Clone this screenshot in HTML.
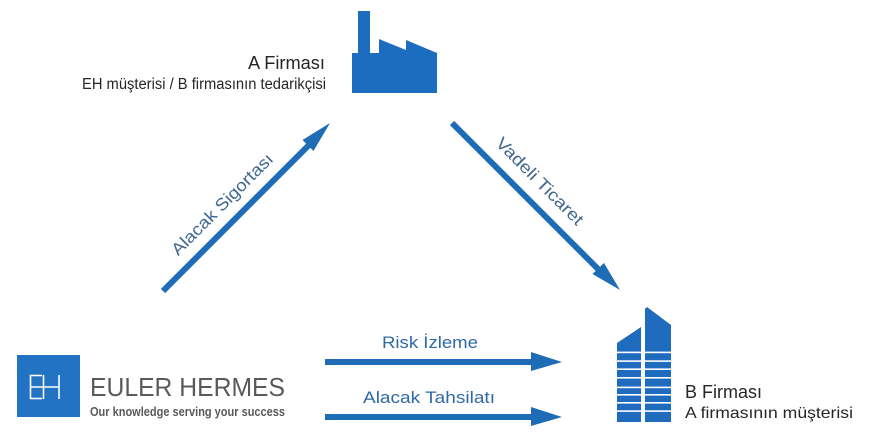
<!DOCTYPE html>
<html>
<head>
<meta charset="utf-8">
<style>
  html, body { margin:0; padding:0; background:#ffffff; }
  body { width:869px; height:444px; overflow:hidden; }
  svg { display:block; }
  text { font-family: "Liberation Sans", "DejaVu Sans", sans-serif; }
</style>
</head>
<body>
<svg width="869" height="444" viewBox="0 0 869 444" xmlns="http://www.w3.org/2000/svg">
  <rect width="869" height="444" fill="#ffffff"/>

  <!-- Factory (A Firmasi) -->
  <polygon fill="#1c6cc0" points="352,93 352,53 358,53 358,11 370,11 370,53 379,53 379,39 406,50 406,40 437,53 437,93"/>

  <text x="325" y="69" font-size="18.5" fill="#262626" text-anchor="end" textLength="77" lengthAdjust="spacingAndGlyphs">A Firması</text>
  <text x="326" y="89" font-size="15.5" fill="#262626" text-anchor="end" textLength="244" lengthAdjust="spacingAndGlyphs">EH müşterisi / B firmasının tedarikçisi</text>

  <!-- Diagonal arrow 1: Alacak Sigortasi -->
  <line x1="163" y1="291" x2="309" y2="145" stroke="#1f6cb6" stroke-width="6"/>
  <polygon fill="#1f6cb6" points="330,123 302.5,140 313.5,151"/>
  <g transform="translate(222,204) rotate(-45)">
    <text x="0" y="6" font-size="17" fill="#3f6790" text-anchor="middle" textLength="136" lengthAdjust="spacingAndGlyphs">Alacak Sigortası</text>
  </g>

  <!-- Diagonal arrow 2: Vadeli Ticaret -->
  <line x1="452" y1="123" x2="598" y2="269" stroke="#1f6cb6" stroke-width="6"/>
  <polygon fill="#1f6cb6" points="620,290 592.5,274 604,263"/>
  <g transform="translate(540,181) rotate(45)">
    <text x="0" y="6" font-size="17" fill="#3f6790" text-anchor="middle" textLength="116" lengthAdjust="spacingAndGlyphs">Vadeli Ticaret</text>
  </g>

  <!-- Horizontal arrows -->
  <line x1="325" y1="362" x2="533" y2="362" stroke="#1f6cb6" stroke-width="6"/>
  <polygon fill="#1f6cb6" points="531,352 562,362 531,371"/>
  <text x="382" y="348" font-size="17" fill="#2f69a6" textLength="96" lengthAdjust="spacingAndGlyphs">Risk İzleme</text>

  <line x1="325" y1="417" x2="533" y2="417" stroke="#1f6cb6" stroke-width="6"/>
  <polygon fill="#1f6cb6" points="531,407 562,417 531,426"/>
  <text x="363" y="403" font-size="17" fill="#2f69a6" textLength="132" lengthAdjust="spacingAndGlyphs">Alacak Tahsilatı</text>

  <!-- Euler Hermes logo -->
  <rect x="17" y="355" width="63" height="62" fill="#2273c3"/>
  <g stroke="#ffffff" stroke-width="1.6" fill="none">
    <line x1="30.5" y1="375" x2="30.5" y2="399"/>
    <line x1="30" y1="375.5" x2="42" y2="375.5"/>
    <line x1="30" y1="398.5" x2="42" y2="398.5"/>
    <line x1="30" y1="387" x2="59" y2="387"/>
    <line x1="43.5" y1="375" x2="43.5" y2="399"/>
    <line x1="59" y1="375" x2="59" y2="399"/>
  </g>
  <text x="90" y="396" font-size="26" fill="#5a5a5a" textLength="195" lengthAdjust="spacingAndGlyphs">EULER HERMES</text>
  <text x="90" y="416" font-size="12.5" font-weight="bold" fill="#5a5a5a" textLength="195" lengthAdjust="spacingAndGlyphs">Our knowledge serving your success</text>

  <!-- Building (B Firmasi) -->
  <polygon fill="#1f6cbf" points="617,343 641,327 641,422 617,422"/>
  <polygon fill="#1f6cbf" points="645,309 647,307 671,325 671,422 645,422"/>
  <g fill="#ffffff">
    <rect x="615" y="351.6" width="58" height="1.6"/>
    <rect x="615" y="360.3" width="58" height="1.6"/>
    <rect x="615" y="368.4" width="58" height="1.6"/>
    <rect x="615" y="377" width="58" height="1.6"/>
    <rect x="615" y="386.6" width="58" height="1.6"/>
    <rect x="615" y="394" width="58" height="1.6"/>
    <rect x="615" y="402" width="58" height="1.6"/>
    <rect x="615" y="410.3" width="58" height="1.6"/>
  </g>

  <text x="685" y="398" font-size="18.5" fill="#262626" textLength="77" lengthAdjust="spacingAndGlyphs">B Firması</text>
  <text x="685" y="418" font-size="16" fill="#262626" textLength="168" lengthAdjust="spacingAndGlyphs">A firmasının müşterisi</text>
</svg>
</body>
</html>
